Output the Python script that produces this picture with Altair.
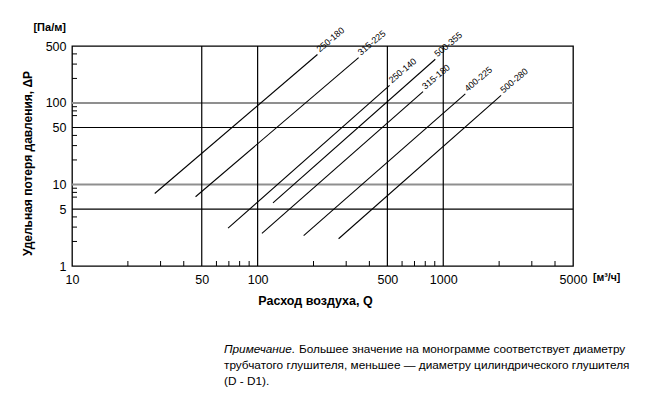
import altair as alt
import pandas as pd

# ---- data ----
series = ["250-180", "315-225", "250-140", "500-355", "315-180", "400-225", "500-280"]
q_start = [27.9, 46.3, 69.3, 121, 105.5, 177, 273]
q_end = [210, 350, 514, 906, 778, 1315, 2049]
dp_start = [7.76, 7.07, 2.92, 5.95, 2.51, 2.36, 2.16]
dp_end = [393, 360, 164, 344, 138, 129, 124]

x_labels = [10, 50, 100, 500, 1000, 5000]
y_labels = [1, 5, 10, 50, 100, 500]
v_grid = [50, 100, 500, 1000]
h_grid_black = [5, 50]
h_grid_gray = [10, 100]
x_minor = [20, 30, 40, 60, 70, 80, 90, 200, 300, 400, 600, 700, 800, 900, 2000, 3000, 4000]
y_minor = [2, 3, 4, 7, 8, 9, 20, 30, 40, 70, 80, 90, 200, 300, 400]

note_lines = [
    "трубчатого глушителя, меньшее — диаметру цилиндрического глушителя",
    "(D - D1).",
]
note_first_italic = "Примечание."
note_first_rest = "Большее значение на монограмме соответствует диаметру"

W, H = 501, 220
FONT = "Liberation Sans"
NOTE_FONT = "Liberation Sans"
NOTE_SIZE = 11.8

rows = []
for s, q0, q1, p0, p1 in zip(series, q_start, q_end, dp_start, dp_end):
    rows.append({"series": s, "Q": q0, "dP": p0, "end": False})
    rows.append({"series": s, "Q": q1, "dP": p1, "end": True})
lines_df = pd.DataFrame(rows)
ends_df = lines_df[lines_df["end"]]

xs = alt.Scale(type="log", domain=[10, 5000], nice=False)
ys = alt.Scale(type="log", domain=[1, 500], nice=False)

base_axes = alt.Chart(pd.DataFrame({"Q": [10], "dP": [1]})).mark_point(opacity=0).encode(
    x=alt.X("Q:Q", scale=xs, axis=alt.Axis(
        values=x_labels, format="d", grid=False, ticks=False, domain=False,
        labelFont=FONT, labelFontSize=12.5, labelColor="black", labelPadding=7,
        labelFlush=False,
        title="Расход воздуха, Q", titleFont=FONT, titleFontSize=12.5,
        titleFontWeight="bold", titleColor="black", titleX=243, titleY=34,
        titleBaseline="middle", titleAlign="center")),
    y=alt.Y("dP:Q", scale=ys, axis=alt.Axis(
        values=y_labels, format="d", grid=False, ticks=False, domain=False,
        labelFont=FONT, labelFontSize=12.5, labelColor="black", labelPadding=6,
        labelFlush=False,
        title="Удельная потеря давления, ΔP", titleFont=FONT, titleFontSize=12,
        titleFontWeight="bold", titleColor="black", titleX=-45, titleY=117,
        titleAngle=270, titleBaseline="middle", titleAlign="center")),
)

vgrid = alt.Chart(pd.DataFrame({"Q": v_grid})).mark_rule(color="black", strokeWidth=1.2).encode(
    x=alt.X("Q:Q", scale=xs))
hgrid_b = alt.Chart(pd.DataFrame({"dP": h_grid_black})).mark_rule(color="black", strokeWidth=1.2).encode(
    y=alt.Y("dP:Q", scale=ys))
hgrid_g = alt.Chart(pd.DataFrame({"dP": h_grid_gray})).mark_rule(color="#8f8f8f", strokeWidth=2).encode(
    y=alt.Y("dP:Q", scale=ys))

xt = alt.Chart(pd.DataFrame({"Q": x_minor})).mark_rule(color="black", strokeWidth=1).encode(
    x=alt.X("Q:Q", scale=xs), y=alt.value(H), y2=alt.value(H - 5))
yt = alt.Chart(pd.DataFrame({"dP": y_minor})).mark_rule(color="black", strokeWidth=1).encode(
    y=alt.Y("dP:Q", scale=ys), x=alt.value(0), x2=alt.value(5))

lines = alt.Chart(lines_df).mark_line(color="black", strokeWidth=1.1).encode(
    x=alt.X("Q:Q", scale=xs), y=alt.Y("dP:Q", scale=ys), detail="series:N")

labels = alt.Chart(ends_df).mark_text(
    angle=320, align="left", baseline="middle", dx=3, dy=-3,
    font=FONT, fontSize=9, color="black").encode(
    x=alt.X("Q:Q", scale=xs), y=alt.Y("dP:Q", scale=ys), text="series:N")

unit_y = alt.Chart(pd.DataFrame({"t": ["[Па/м]"]})).mark_text(
    align="right", baseline="middle", font=FONT, fontSize=11, fontWeight="bold", color="black").encode(
    text="t:N", x=alt.value(-6), y=alt.value(-18))
unit_x = alt.Chart(pd.DataFrame({"t": ["[м³/ч]"]})).mark_text(
    align="left", baseline="middle", font=FONT, fontSize=10.5, fontWeight="bold", color="black").encode(
    text="t:N", x=alt.value(521), y=alt.value(232))

note_it = alt.Chart(pd.DataFrame({"t": [note_first_italic]})).mark_text(
    align="left", baseline="middle", font=NOTE_FONT, fontSize=NOTE_SIZE, fontStyle="italic", color="black").encode(
    text="t:N", x=alt.value(152), y=alt.value(303))
note_r1 = alt.Chart(pd.DataFrame({"t": [note_first_rest]})).mark_text(
    align="left", baseline="middle", font=NOTE_FONT, fontSize=NOTE_SIZE, color="black").encode(
    text="t:N", x=alt.value(227), y=alt.value(303))
note_r2 = alt.Chart(pd.DataFrame({"t": [note_lines[0]]})).mark_text(
    align="left", baseline="middle", font=NOTE_FONT, fontSize=NOTE_SIZE, color="black").encode(
    text="t:N", x=alt.value(152), y=alt.value(319))
note_r3 = alt.Chart(pd.DataFrame({"t": [note_lines[1]]})).mark_text(
    align="left", baseline="middle", font=NOTE_FONT, fontSize=NOTE_SIZE, color="black").encode(
    text="t:N", x=alt.value(152), y=alt.value(335))

chart = alt.layer(
    base_axes, hgrid_g, hgrid_b, vgrid, xt, yt, lines, labels,
    unit_y, unit_x, note_it, note_r1, note_r2, note_r3
).properties(
    width=W, height=H,
    autosize=alt.AutoSizeParams(type="none"),
    padding={"left": 72, "top": 46, "right": 88, "bottom": 138},
    background="white",
).configure_view(stroke="black", strokeWidth=1.3)

chart.save("out.html", embed_options={"renderer": "svg", "actions": False})
